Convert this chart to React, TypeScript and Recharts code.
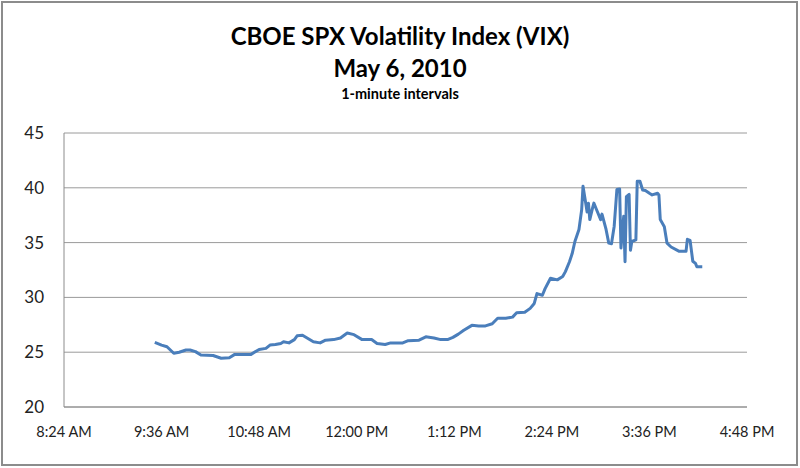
import { LineChart, Line, XAxis, YAxis, CartesianGrid } from "recharts";

// Tid i minuter efter midnatt
const times = [
  571, 576, 580, 585, 589, 594, 597, 601, 605, 614, 620, 626, 630, 642, 648, 653, 656, 660, 664, 666,
  670, 674, 676, 680, 684, 688, 693, 697, 703, 708, 713, 718, 724, 731, 735, 741, 745, 754, 758, 766,
  771, 777, 782, 787, 791, 795, 799, 805, 810, 815, 820, 824, 830, 835, 838, 844, 848, 851, 853, 857,
  859, 863, 868, 872, 874, 877, 879, 881, 884, 886, 887, 889, 890, 891, 892, 894, 895, 897, 900, 901,
  904, 906, 908, 910, 912, 914, 915, 917, 918, 919, 921, 922, 923, 926, 927, 929, 931, 933, 936, 938,
  942, 943, 944, 947, 949, 952, 958, 963, 964, 966, 968, 970, 971, 975,
];

// VIX-värden
const vix = [
  25.9, 25.65, 25.5, 24.9, 25.0, 25.2, 25.2, 25.05, 24.75, 24.7, 24.45, 24.5, 24.8, 24.8, 25.25, 25.35, 25.65, 25.7, 25.8, 25.95,
  25.85, 26.15, 26.5, 26.55, 26.25, 25.95, 25.85, 26.1, 26.15, 26.3, 26.75, 26.6, 26.15, 26.15, 25.8, 25.7, 25.85, 25.85, 26.05, 26.1,
  26.4, 26.3, 26.15, 26.15, 26.35, 26.65, 27.0, 27.45, 27.4, 27.4, 27.6, 28.1, 28.1, 28.2, 28.6, 28.65, 29.0, 29.45, 30.35, 30.2,
  30.8, 31.75, 31.6, 31.9, 32.35, 33.25, 34.0, 35.1, 36.2, 38.0, 40.15, 38.6, 37.8, 38.6, 37.1, 38.15, 38.6, 38.0, 37.1, 37.6,
  36.2, 34.95, 34.9, 36.5, 39.85, 39.9, 34.5, 37.4, 33.25, 39.2, 39.4, 34.3, 35.1, 35.25, 40.6, 40.6, 39.8, 39.75, 39.5, 39.35,
  39.5, 39.35, 37.1, 36.45, 34.95, 34.6, 34.2, 34.2, 35.3, 35.2, 33.3, 33.1, 32.8, 32.8,
];

// Axelmarkeringar
const xTicks = [504, 576, 648, 720, 792, 864, 936, 1008];
const xTickLabels = ["8:24 AM", "9:36 AM", "10:48 AM", "12:00 PM", "1:12 PM", "2:24 PM", "3:36 PM", "4:48 PM"];
const yTicks = [20, 25, 30, 35, 40, 45];

const data = times.map((t, i) => ({ t, vix: vix[i] }));

const FONT = "Lato, 'Open Sans', sans-serif";

const App = () => {
  return (
    <div style={{ position: "relative", width: 800, height: 468, background: "#fff", fontFamily: FONT }}>
      <style>{`body{margin:0}`}</style>
      <div
        style={{
          position: "absolute",
          left: 1,
          top: 1,
          width: 797,
          height: 465,
          border: "2px solid #8c8c8c",
          boxSizing: "border-box",
        }}
      />
      <div style={{ position: "absolute", top: 20, width: 800, textAlign: "center", color: "#000" }}>
        <div style={{ fontSize: 24, fontWeight: 700, lineHeight: "32px" }}>CBOE SPX Volatility Index (VIX)</div>
        <div style={{ fontSize: 24, fontWeight: 700, lineHeight: "32px" }}>May 6, 2010</div>
        <div style={{ fontSize: 14.5, fontWeight: 700, lineHeight: "20px" }}>1-minute intervals</div>
      </div>
      <div style={{ position: "absolute", left: 0, top: 0 }}>
        <LineChart width={800} height={468} data={data} margin={{ top: 133, right: 53, bottom: 0, left: 0 }}>
          <CartesianGrid vertical={false} stroke="#9a9a9a" strokeWidth={1} />
          <XAxis
            dataKey="t"
            type="number"
            domain={[504, 1008]}
            ticks={xTicks}
            interval={0}
            tickFormatter={(v: number) => xTickLabels[xTicks.indexOf(v)] ?? ""}
            tickLine={false}
            tickSize={0}
            tickMargin={20}
            axisLine={{ stroke: "#8c8c8c" }}
            tick={{ fill: "#222", fontSize: 14.5, fontFamily: FONT }}
            height={61}
          />
          <YAxis
            type="number"
            domain={[20, 45]}
            ticks={yTicks}
            interval={0}
            width={64}
            tickLine={false}
            tickSize={0}
            tickMargin={20}
            axisLine={{ stroke: "#8c8c8c" }}
            tick={{ fill: "#222", fontSize: 17, fontFamily: FONT }}
          />
          <Line
            type="linear"
            dataKey="vix"
            stroke="#4a7ebb"
            strokeWidth={3}
            strokeLinejoin="round"
            dot={false}
            isAnimationActive={false}
          />
        </LineChart>
      </div>
    </div>
  );
};

export default App;
